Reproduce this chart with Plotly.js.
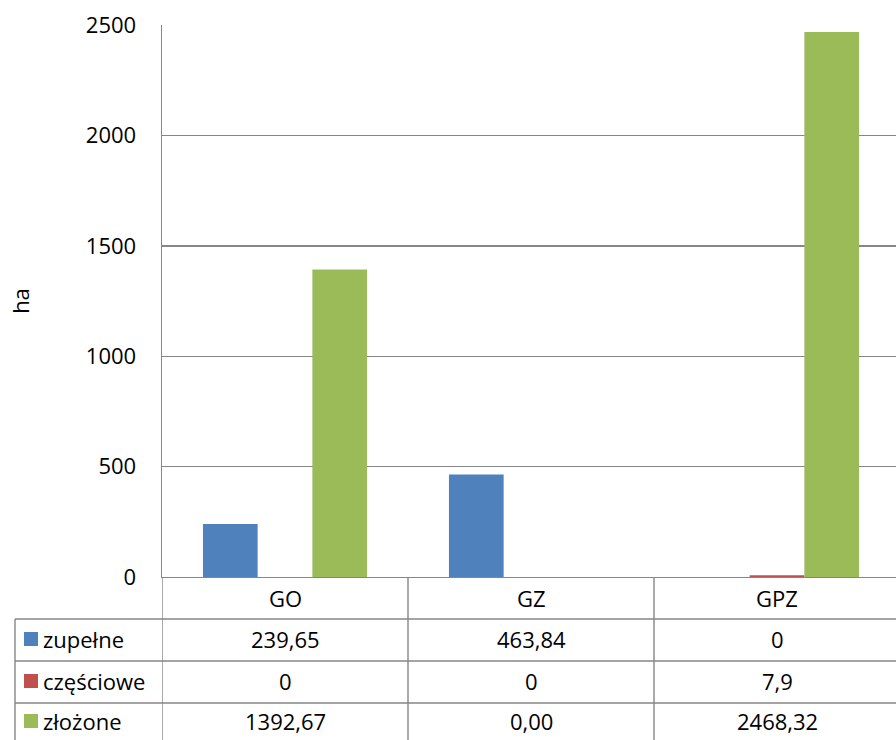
<!DOCTYPE html>
<html>
<head>
<meta charset="utf-8">
<script src="https://cdn.plot.ly/plotly-3.0.1.min.js"></script>
<style>
html, body { margin: 0; padding: 0; overflow: hidden; background: #fff; }
#chart { width: 910px; height: 740px; }
</style>
</head>
<body>
<div id="chart"></div>
<script>
// ---- data ----
const categories = ['GO', 'GZ', 'GPZ'];
const seriesNames = ['zupełne', 'częściowe', 'złożone'];
const zupelne = [239.65, 463.84, 0];
const czesciowe = [0, 0, 7.9];
const zlozone = [1392.67, 0, 2468.32];
const zupelneLabels = ['239,65', '463,84', '0'];
const czescioweLabels = ['0', '0', '7,9'];
const zlozoneLabels = ['1392,67', '0,00', '2468,32'];
const yTicks = [0, 500, 1000, 1500, 2000, 2500];
const yTitle = 'ha';

const seriesValues = [zupelne, czesciowe, zlozone];
const seriesLabels = [zupelneLabels, czescioweLabels, zlozoneLabels];
const colors = ['#4F81BD', '#C0504D', '#9BBB59'];

// ---- layout geometry (pixels) ----
const W = 910, H = 740;
const L = 162, R = 10, T = 25, B = 163;
const plotW = W - L - R, plotH = H - T - B;
const bottomPx = H - B;
const py = px => (bottomPx - px) / plotH;      // page y -> paper y
const pxX = px => (px - L) / plotW;            // page x -> paper x
const gridColor = '#868686';
const FONT = 'Open Sans, sans-serif';
const FS = 22;

const traces = seriesNames.map((name, i) => ({
  type: 'bar',
  name: name,
  x: categories,
  y: seriesValues[i],
  marker: { color: colors[i], line: { width: 0 } },
  hoverinfo: 'skip'
}));

const shapes = [];
const annotations = [];
const rowLines = [619, 661, 703];
const rowCenters = [639, 681, 721];
const headerCenter = 598;
const lineStyle = { color: gridColor, width: 1.4 };

// horizontal table lines
rowLines.forEach(yp => {
  shapes.push({ type: 'line', xref: 'paper', yref: 'paper',
    x0: pxX(15), x1: 1, y0: py(yp), y1: py(yp), line: lineStyle });
});
// left border of legend column
shapes.push({ type: 'line', xref: 'paper', yref: 'paper',
  x0: pxX(15), x1: pxX(15), y0: py(619), y1: py(760), line: lineStyle });
// column borders at category boundaries
for (let k = 0; k <= categories.length; k++) {
  shapes.push({ type: 'line', xref: 'x', yref: 'paper',
    x0: k - 0.5, x1: k - 0.5, y0: 0, y1: py(760), line: lineStyle });
}
// header labels
categories.forEach(c => {
  annotations.push({ xref: 'x', yref: 'paper', x: c, y: py(headerCenter),
    text: c, showarrow: false, xanchor: 'center', yanchor: 'middle',
    font: { family: FONT, size: FS, color: '#000' } });
});
// rows
seriesNames.forEach((name, i) => {
  const yc = rowCenters[i];
  shapes.push({ type: 'rect', xref: 'paper', yref: 'paper',
    x0: pxX(24), x1: pxX(38), y0: py(yc - 7), y1: py(yc + 7),
    fillcolor: colors[i], line: { width: 0 } });
  annotations.push({ xref: 'paper', yref: 'paper', x: pxX(41), y: py(yc),
    text: name, showarrow: false, xanchor: 'left', yanchor: 'middle',
    font: { family: FONT, size: FS, color: '#000' } });
  categories.forEach((c, j) => {
    annotations.push({ xref: 'x', yref: 'paper', x: c, y: py(yc),
      text: seriesLabels[i][j], showarrow: false, xanchor: 'center', yanchor: 'middle',
      font: { family: FONT, size: FS, color: '#000' } });
  });
});

const layout = {
  width: W, height: H,
  margin: { l: L, r: R, t: T, b: B, pad: 0 },
  paper_bgcolor: '#fff', plot_bgcolor: '#fff',
  barmode: 'group', bargap: 0.333, bargroupgap: 0,
  showlegend: false,
  font: { family: FONT, size: FS, color: '#000' },
  xaxis: {
    type: 'category', range: [-0.5, 2.5],
    showticklabels: false, ticks: '', showgrid: false,
    showline: true, linecolor: gridColor, linewidth: 1.4, zeroline: false, fixedrange: true
  },
  yaxis: {
    range: [0, 2500], tickvals: yTicks, ticktext: yTicks.map(String),
    showgrid: true, gridcolor: gridColor, gridwidth: 1.4,
    showline: true, linecolor: gridColor, linewidth: 1.4,
    zeroline: false, ticks: '', ticklabelstandoff: 20,
    tickfont: { family: FONT, size: FS, color: '#000' },
    title: { text: yTitle, standoff: 50, font: { family: FONT, size: FS, color: '#000' } },
    automargin: false, fixedrange: true
  },
  shapes: shapes,
  annotations: annotations
};

Plotly.newPlot('chart', traces, layout, { staticPlot: true, displayModeBar: false });
</script>
</body>
</html>
